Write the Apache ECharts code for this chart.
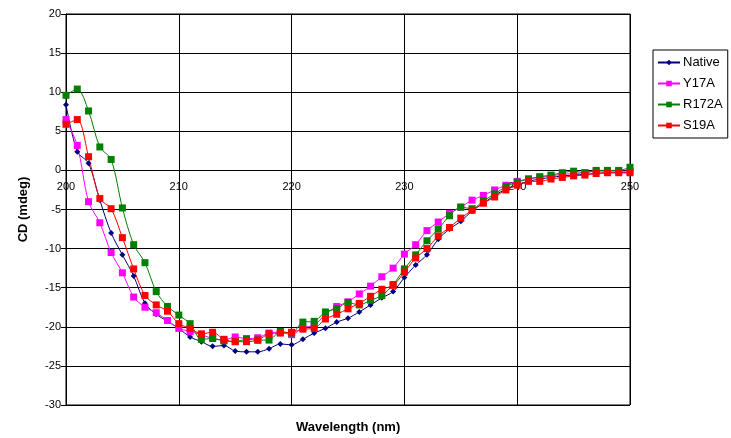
<!DOCTYPE html>
<html>
<head>
<meta charset="utf-8">
<script src="https://cdn.jsdelivr.net/npm/echarts@6/dist/echarts.min.js"></script>
<style>html,body{margin:0;padding:0;background:#fff}#c{width:731px;height:438px}</style>
</head>
<body>
<div id="c"></div>
<script>
var wavelengths = [];
for (var w = 200; w <= 250; w++) wavelengths.push(w);

var native = [8.4,2.4,0.9,-3.8,-8.0,-10.8,-13.5,-17.0,-18.4,-19.3,
  -20.2,-21.3,-21.9,-22.5,-22.4,-23.1,-23.2,-23.2,-22.8,-22.2,
  -22.3,-21.6,-20.8,-20.2,-19.4,-18.9,-18.1,-17.2,-16.3,-15.5,
  -13.7,-12.1,-10.8,-8.8,-7.5,-6.5,-5.2,-4.2,-3.2,-2.4,
  -1.9,-1.4,-1.1,-0.9,-0.7,-0.6,-0.5,-0.4,-0.3,-0.3,-0.3];
var y17a = [6.5,3.2,-4.0,-6.7,-10.5,-13.1,-16.2,-17.5,-18.2,-19.2,
  -20.2,-20.6,-21.0,-21.5,-21.7,-21.3,-21.5,-21.4,-20.8,-20.7,
  -21.0,-20.1,-19.8,-18.4,-17.4,-16.8,-15.8,-14.8,-13.6,-12.5,
  -10.7,-9.5,-7.7,-6.6,-5.5,-4.7,-3.8,-3.2,-2.5,-1.9,
  -1.4,-1.1,-0.9,-0.7,-0.5,-0.4,-0.3,-0.1,-0.1,-0.1,-0.1];
var r172a = [9.6,10.4,7.6,3.0,1.4,-4.8,-9.5,-11.8,-15.5,-17.4,
  -18.5,-19.6,-21.6,-21.5,-21.8,-21.9,-21.6,-21.7,-21.7,-20.6,
  -20.8,-19.4,-19.3,-18.1,-17.7,-16.9,-17.2,-16.6,-16.0,-14.6,
  -12.6,-10.8,-9.0,-7.5,-5.8,-4.7,-4.9,-3.9,-3.0,-2.1,
  -1.5,-1.1,-0.8,-0.6,-0.3,-0.1,-0.3,0.0,0.0,0.0,0.4];
var s19a = [5.9,6.5,1.75,-3.6,-4.9,-8.6,-12.6,-16.0,-17.2,-18.0,
  -19.6,-20.2,-20.9,-20.7,-21.6,-21.9,-21.9,-21.7,-20.9,-20.8,
  -20.7,-20.3,-20.2,-19.0,-18.4,-17.7,-17.0,-16.1,-15.2,-14.7,
  -13.0,-11.2,-10.0,-8.4,-7.3,-6.1,-5.1,-4.2,-3.4,-2.5,
  -1.9,-1.4,-1.4,-1.1,-0.9,-0.7,-0.6,-0.4,-0.3,-0.3,-0.3];

function pairs(arr){ return wavelengths.map(function(x,i){ return [x, arr[i]]; }); }

var FONT = '"Liberation Sans", Arial, sans-serif';
function mk(name, data, color, symbol, size){
  return {
    name: name, type: 'line', data: pairs(data), smooth: 0.3,
    symbol: symbol, symbolSize: size,
    lineStyle: {color: color, width: 1},
    itemStyle: {color: color},
    emphasis: {disabled: true},
    z: 3
  };
}

var chart = echarts.init(document.getElementById('c'), null, {renderer: 'canvas'});
chart.setOption({
  animation: false,
  backgroundColor: '#fff',
  grid: {left: 66, right: 101, top: 14, bottom: 33, show: true, borderColor: '#000', borderWidth: 1, backgroundColor: '#fff'},
  xAxis: {
    type: 'value', min: 200, max: 250, interval: 10,
    position: 'bottom', offset: -235, z: 0,
    axisLine: {show: true, onZero: false, lineStyle: {color: '#000', width: 1}},
    axisTick: {show: false},
    axisLabel: {color: '#000', fontFamily: FONT, fontSize: 11, margin: 11},
    splitLine: {show: true, lineStyle: {color: '#000', width: 1}}
  },
  yAxis: {
    type: 'value', min: -30, max: 20, interval: 5,
    axisLine: {show: true, onZero: false, lineStyle: {color: '#000'}},
    axisTick: {show: true, inside: false, length: 5, lineStyle: {color: '#000'}},
    axisLabel: {color: '#000', fontFamily: FONT, fontSize: 11, margin: 5},
    splitLine: {show: true, lineStyle: {color: '#000', width: 1}},
    name: 'CD (mdeg)', nameLocation: 'middle', nameGap: 36, nameRotate: 90,
    nameTextStyle: {color: '#000', fontFamily: FONT, fontSize: 13, fontWeight: 'bold'}
  },
  legend: {
    orient: 'vertical', left: 653, top: 50,
    padding: [6, 5, 6, 4], itemGap: 8,
    itemWidth: 22, itemHeight: 7,
    borderColor: '#000', borderWidth: 1, backgroundColor: '#fff',
    textStyle: {color: '#000', fontFamily: FONT, fontSize: 13, padding: [0,0,0,-2]},
    data: ['Native', 'Y17A', 'R172A', 'S19A']
  },
  graphic: [{
    type: 'text', left: 296, top: 421,
    style: {text: 'Wavelength (nm)', font: 'bold 13px ' + FONT, fill: '#000'}
  }],
  series: [
    mk('Native', native, '#000080', 'diamond', 6),
    mk('Y17A', y17a, '#FF00FF', 'rect', 7),
    mk('R172A', r172a, '#008000', 'rect', 7),
    mk('S19A', s19a, '#FF0000', 'rect', 7)
  ]
});
</script>
</body>
</html>
